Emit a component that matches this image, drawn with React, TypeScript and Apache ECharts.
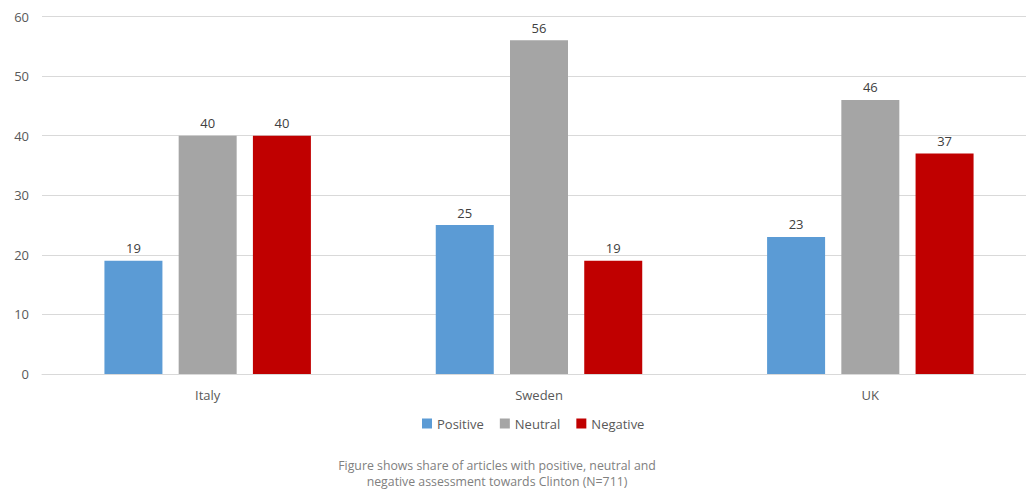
import React, { useEffect, useRef } from "react";
import * as echarts from "echarts";

const countries = ["Italy", "Sweden", "UK"];
const positive = [19, 25, 23];
const neutral = [40, 56, 46];
const negative = [40, 19, 37];
const yTicks = { min: 0, max: 60, interval: 10 };
const captionLines = [
  "Figure shows share of articles with positive, neutral and",
  "negative assessment towards Clinton (N=711)",
];

const FONT = "'Open Sans', 'Noto Sans', sans-serif";

export default function App() {
  const ref = useRef<HTMLDivElement>(null);

  useEffect(() => {
    if (!ref.current) return;
    const chart = echarts.init(ref.current, null, { renderer: "svg" });

    const label = {
      show: true,
      position: "top" as const,
      distance: 6,
      color: "#404040",
      fontSize: 13,
      fontFamily: FONT,
    };

    const mk = (name: string, data: number[], color: string) => ({
      name,
      type: "bar" as const,
      data,
      barWidth: 58,
      barGap: "28%",
      itemStyle: { color },
      label,
    });

    chart.setOption({
      animation: false,
      textStyle: { fontFamily: FONT },
      grid: {
        left: 42,
        right: -10,
        top: 16.5,
        bottom: 116,
        containLabel: false,
        outerBoundsMode: "none",
      },
      legend: {
        top: 412,
        left: 417,
        icon: "rect",
        itemWidth: 10,
        itemHeight: 10,
        itemGap: 16,
        textStyle: { color: "#595959", fontSize: 13, fontFamily: FONT },
        data: ["Positive", "Neutral", "Negative"],
      },
      title: {
        text: captionLines.join("\n"),
        left: 497,
        top: 457,
        padding: 0,
        textAlign: "center",
        textStyle: {
          color: "#808080",
          fontSize: 12.3,
          fontWeight: "normal",
          lineHeight: 16.5,
          fontFamily: FONT,
        },
      },
      xAxis: {
        type: "category",
        data: countries,
        axisLine: { show: true, lineStyle: { color: "#d9d9d9" } },
        axisTick: { show: false },
        axisLabel: { color: "#595959", fontSize: 13, margin: 14, fontFamily: FONT },
      },
      yAxis: {
        type: "value",
        min: yTicks.min,
        max: yTicks.max,
        interval: yTicks.interval,
        axisLine: { show: false },
        axisTick: { show: false },
        axisLabel: { color: "#595959", fontSize: 13, margin: 13, fontFamily: FONT },
        splitLine: { lineStyle: { color: "#d9d9d9" } },
      },
      series: [
        mk("Positive", positive, "#5b9bd5"),
        mk("Neutral", neutral, "#a5a5a5"),
        mk("Negative", negative, "#c00000"),
      ],
    });

    return () => chart.dispose();
  }, []);

  return (
    <div
      ref={ref}
      style={{ position: "fixed", left: 0, top: 0, width: 1026, height: 490, background: "#fff" }}
    />
  );
}
